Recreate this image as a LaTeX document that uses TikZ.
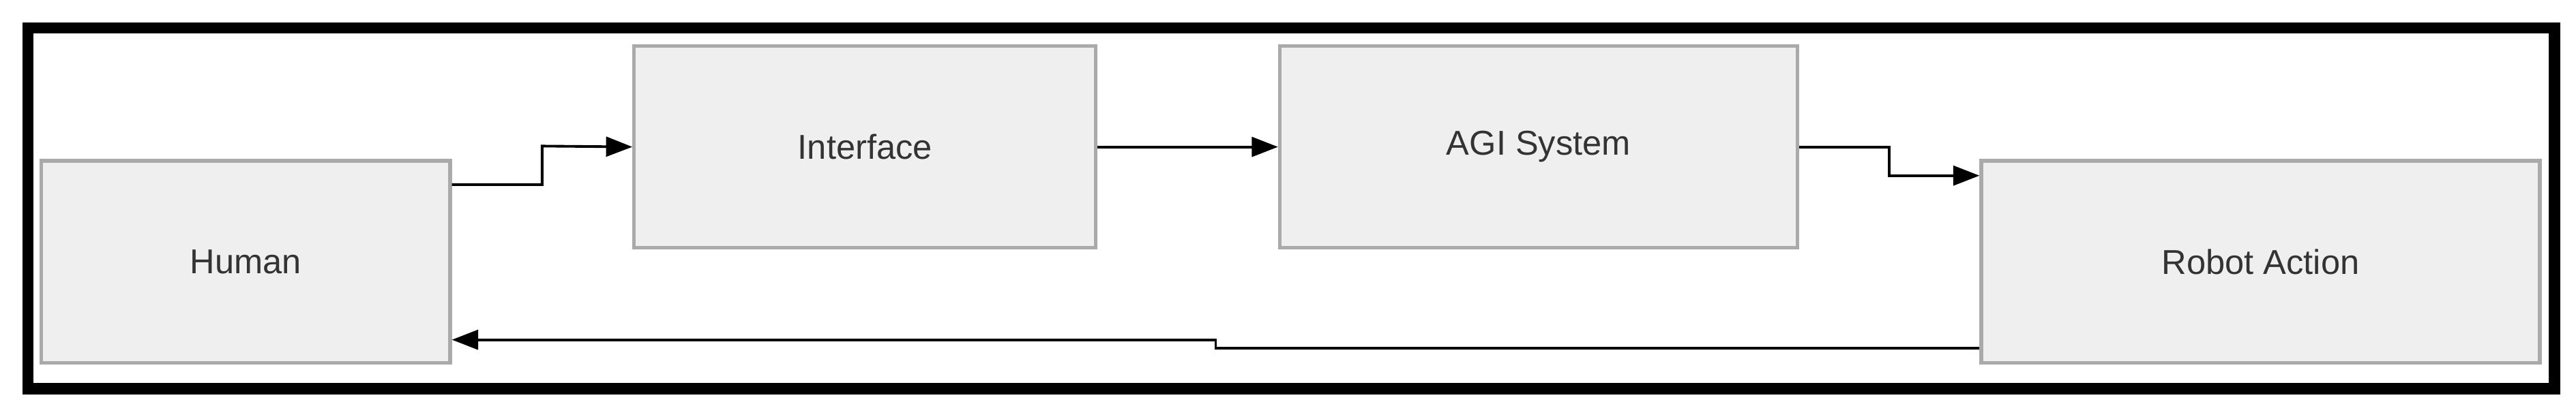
\documentclass[tikz,border=0pt]{standalone}
\usepackage{fontspec}
\setmainfont{Liberation Sans}
\usetikzlibrary{arrows.meta}
\tikzset{
  box/.style={draw=boxgray, fill=boxfill, line width=2.2pt, minimum height=123pt, text=txtgray, font=\fontsize{21}{25}\selectfont},
  link/.style={line width=1.6pt, -{Triangle[length=16pt,width=12pt]}}
}
\definecolor{boxgray}{HTML}{AAAAAA}
\definecolor{boxfill}{HTML}{EFEFEF}
\definecolor{txtgray}{HTML}{333333}
\begin{document}
\begin{tikzpicture}[x=1pt,y=1pt,yscale=-1]
  \useasboundingbox (0,0) rectangle (1568,254);
  % frame
  \draw[line width=7pt] (17,17) rectangle (1555,237);
  % boxes
  \node[box, minimum width=249pt] (human) at (149.5,159.5) {Human};
  \node[box, minimum width=281pt] (iface) at (526.5,89.5) {Interface};
  \node[box, minimum width=315pt] (agi) at (936.5,89.5) {AGI System};
  \node[box, minimum width=340pt] (robot) at (1376,159.5) {Robot Action};
  % connectors
  \draw[link] ([yshift=-47pt]human.east) -| (330,89) -- (iface.west);
  \draw[link] (iface.east) -- (agi.west);
  \draw[link] (agi.east) -| (1150,107) -- ([yshift=-52.5pt]robot.west);
  \draw[link] ([yshift=52.5pt]robot.west) -| (740,207) -- ([yshift=47.5pt]human.east);
\end{tikzpicture}
\end{document}
